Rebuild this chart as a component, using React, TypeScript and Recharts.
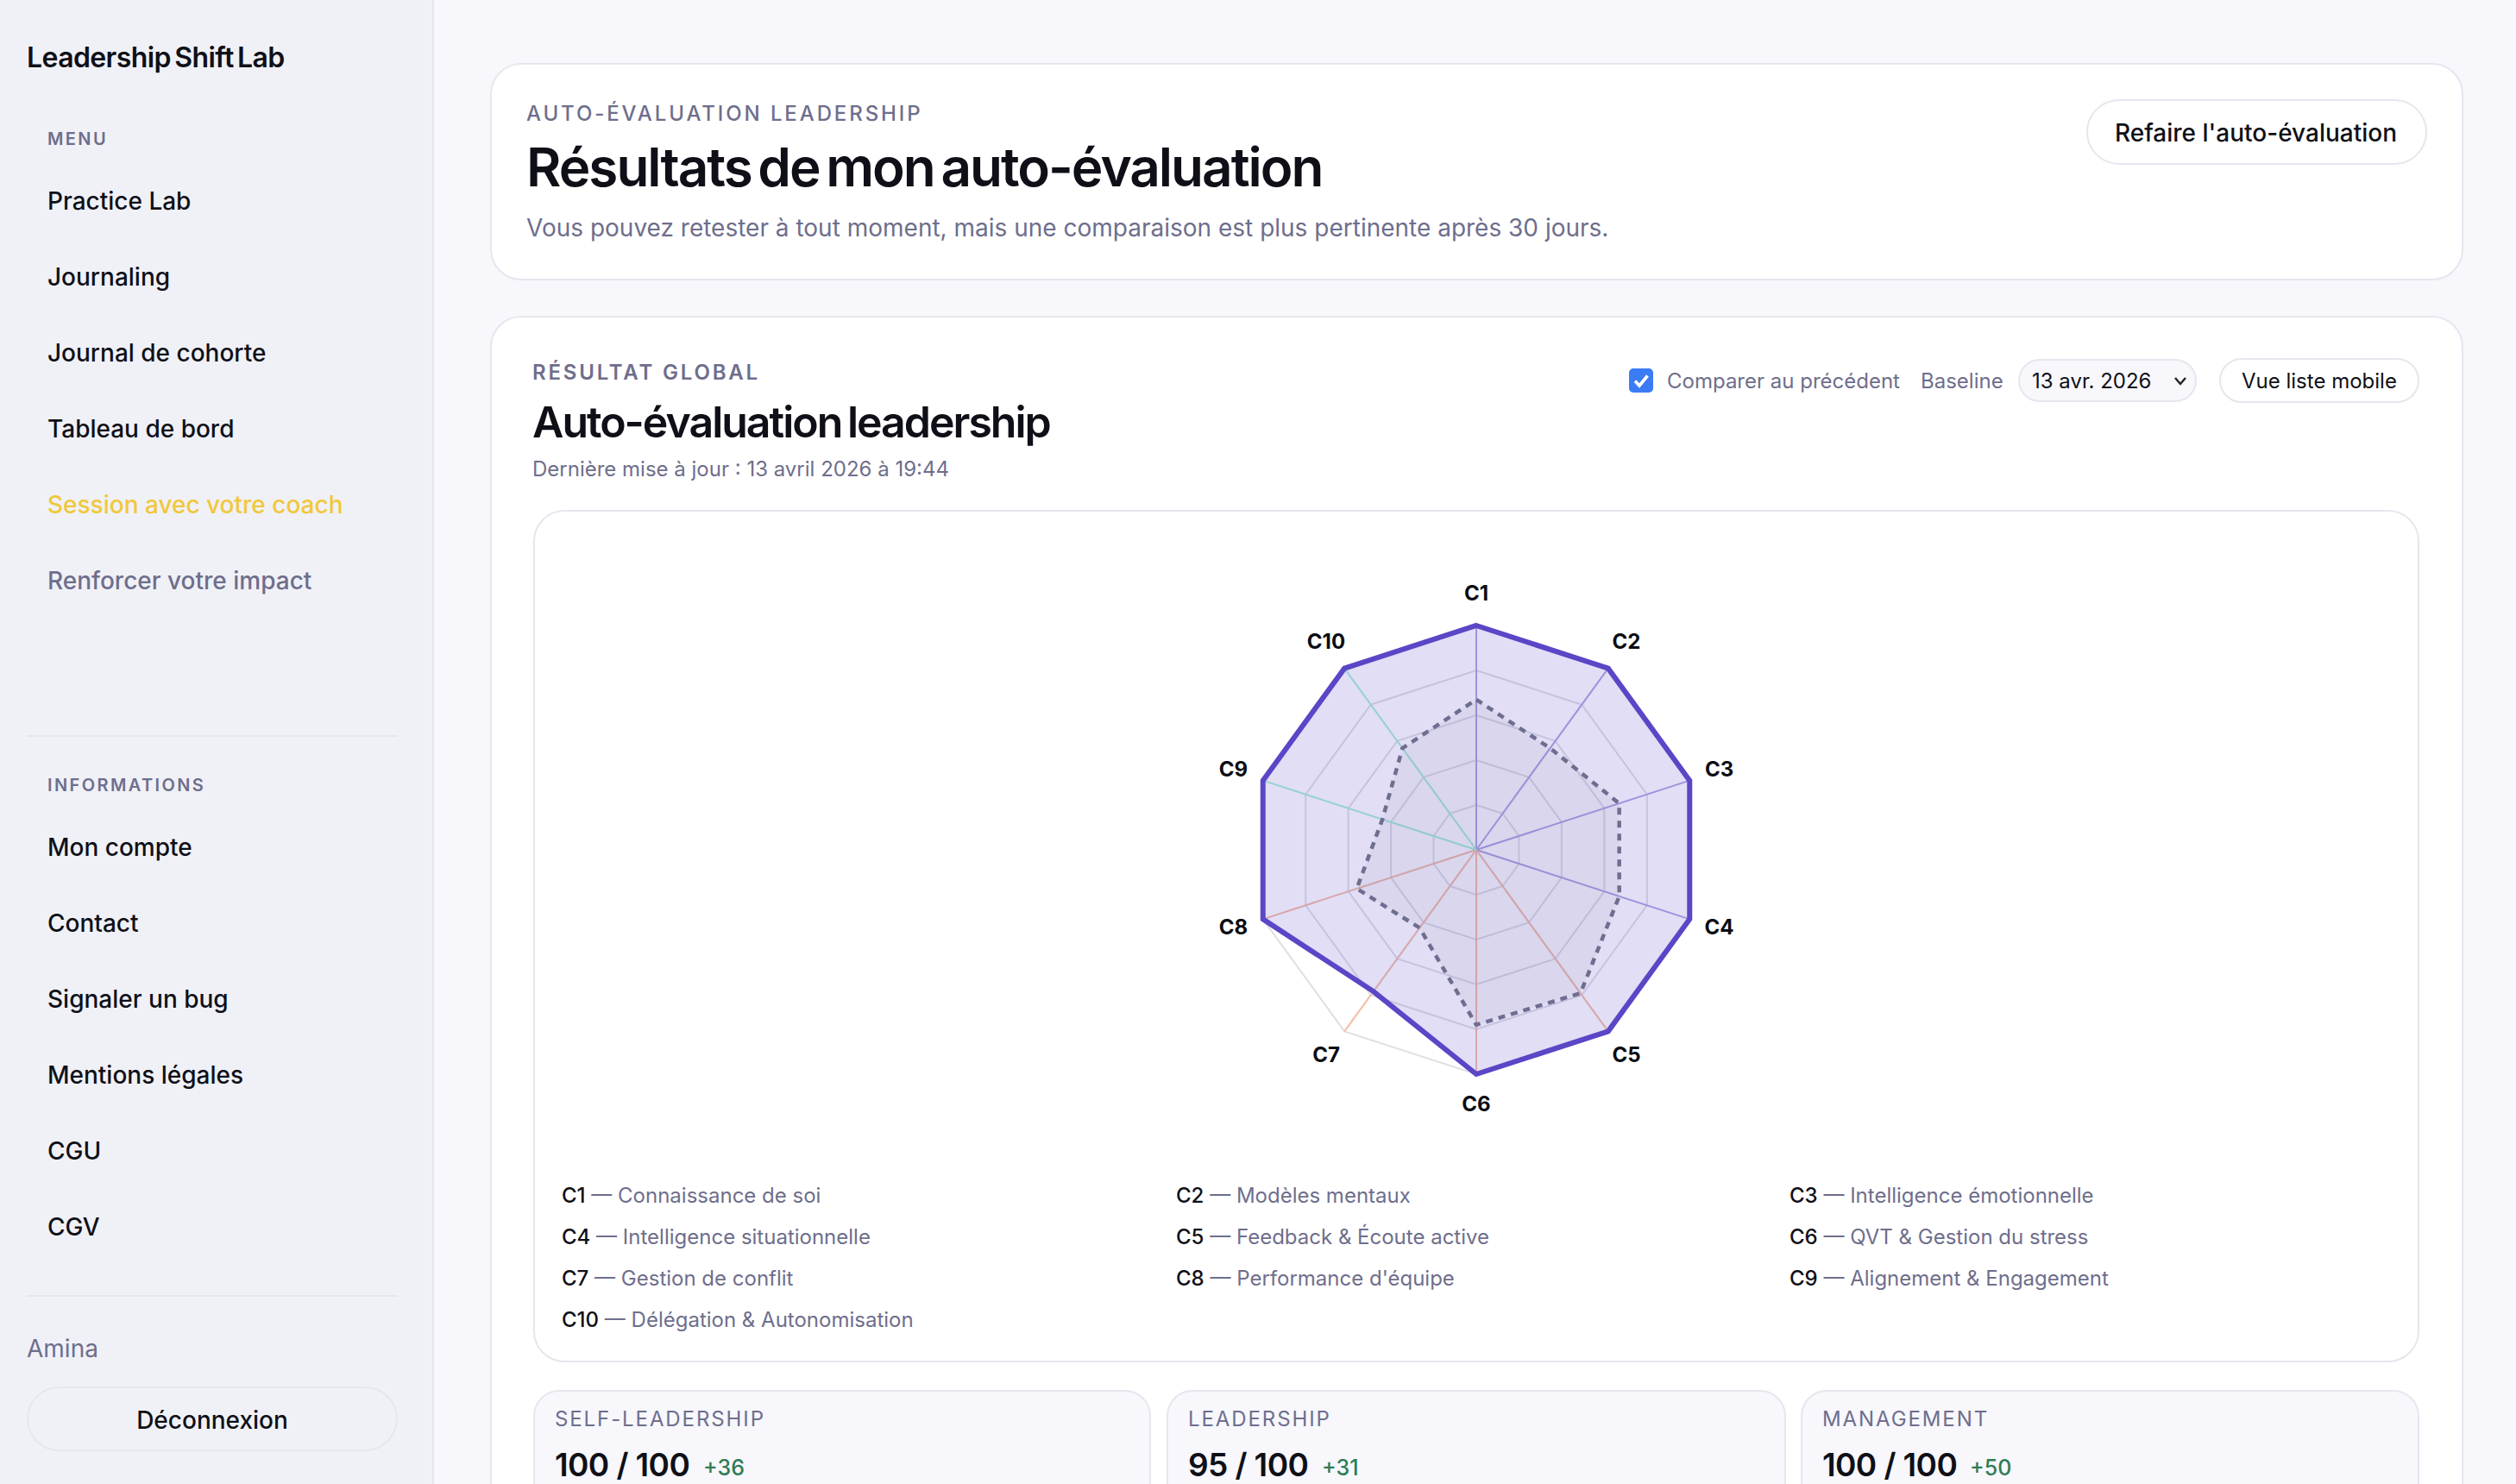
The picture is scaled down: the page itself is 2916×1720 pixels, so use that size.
import React from 'react';
import { RadarChart, Radar, PolarGrid, PolarAngleAxis, PolarRadiusAxis } from 'recharts';

const categories = ['C1', 'C2', 'C3', 'C4', 'C5', 'C6', 'C7', 'C8', 'C9', 'C10'];
const currentValues = [100, 100, 100, 100, 100, 100, 78, 100, 100, 100];
const baselineValues = [67, 56, 67, 67, 79, 78, 43, 56, 44, 56];
const axisMaxValues = [100, 100, 100, 100, 100, 100, 100, 100, 100, 100];
const competencyNames = [
  'Connaissance de soi', 'Modèles mentaux', 'Intelligence émotionnelle', 'Intelligence situationnelle',
  'Feedback & Écoute active', 'QVT & Gestion du stress', 'Gestion de conflit', "Performance d'équipe",
  'Alignement & Engagement', 'Délégation & Autonomisation',
];
const spokeColors = ['#aca4e3', '#aca4e3', '#aca4e3', '#aca4e3', '#f4bca5', '#f4bca5', '#f4bca5', '#f4bca5', '#a3f0d6', '#a3f0d6'];
const menuItems = ['Practice Lab', 'Journaling', 'Journal de cohorte', 'Tableau de bord', 'Session avec votre coach', 'Renforcer votre impact'];
const infoItems = ['Mon compte', 'Contact', 'Signaler un bug', 'Mentions légales', 'CGU', 'CGV'];
const statLabels = ['SELF-LEADERSHIP', 'LEADERSHIP', 'MANAGEMENT'];
const statScores = ['100 / 100', '95 / 100', '100 / 100'];
const statDeltas = ['+36', '+31', '+50'];

const chartData = categories.map((c, i) => ({ axis: c, current: currentValues[i], baseline: baselineValues[i], axisMax: axisMaxValues[i] }));

const FONT = 'Inter, sans-serif';
const INK = '#0f1017';
const MUTED = '#6e6e8c';
const BORDER = '#e6e6ee';
const CX = 400, CY = 400, R = 260;

function T({ x, y, size, color = INK, weight = 400, ls = 0, ws = 0, children }: any) {
  return (
    <div style={{ position: 'absolute', left: x, top: y, transform: 'translateY(-50%)', fontFamily: FONT, fontSize: size, color, fontWeight: weight, letterSpacing: ls, wordSpacing: ws, lineHeight: 1.2, whiteSpace: 'nowrap' }}>
      {children}
    </div>
  );
}

function Box({ x, y, w, h, r, bg = '#fff', border = BORDER, children }: any) {
  return (
    <div style={{ position: 'absolute', left: x, top: y, width: w, height: h, borderRadius: r, background: bg, border: `2px solid ${border}`, boxSizing: 'border-box' }}>
      {children}
    </div>
  );
}

function LabelTick(props: any) {
  const { payload } = props;
  const a = (payload.coordinate * Math.PI) / 180;
  const lx = CX + (R + 36) * Math.cos(a);
  const ly = CY - (R + 36) * Math.sin(a) - 2;
  return (
    <text x={lx} y={ly} textAnchor="middle" dominantBaseline="central" fontFamily={FONT} fontSize={24} fontWeight={700} fill="#0b0c12">{payload.value}</text>
  );
}

function Spokes(props: any) {
  return (
    <g>
      {props.points.map((p: any, i: number) => (
        <line key={i} x1={CX} y1={CY} x2={p.x} y2={p.y} stroke={spokeColors[i]} strokeWidth={2} />
      ))}
    </g>
  );
}

export default function App() {
  return (
    <div style={{ position: 'fixed', left: 0, top: 0, width: 2916, height: 1720, overflow: 'hidden', background: '#f7f7fc' }}>
      {/* Sidebar */}
      <div style={{ position: 'absolute', left: 0, top: 0, width: 503, height: 1720, background: '#f0f1f7', borderRight: `2px solid ${BORDER}`, boxSizing: 'border-box' }} />
      <T x={31} y={67} size={32} weight={600} ls={-0.6} ws={-3}>Leadership Shift Lab</T>
      <T x={55} y={161} size={20} weight={600} color={MUTED} ls={2.4}>MENU</T>
      {menuItems.map((m, i) => (
        <T key={m} x={55} y={234 + i * 88} size={28} weight={500} color={i === 4 ? '#f0c83c' : i === 5 ? MUTED : INK}>{m}</T>
      ))}
      <div style={{ position: 'absolute', left: 31, top: 852, width: 430, height: 2, background: BORDER }} />
      <T x={55} y={910} size={20} weight={600} color={MUTED} ls={2.4}>INFORMATIONS</T>
      {infoItems.map((m, i) => (
        <T key={m} x={55} y={983 + i * 88} size={28} weight={500}>{m}</T>
      ))}
      <div style={{ position: 'absolute', left: 31, top: 1501, width: 430, height: 2, background: BORDER }} />
      <T x={31} y={1564} size={28} color={MUTED}>Amina</T>
      <Box x={31} y={1607} w={430} h={75} r={38} bg="#f0f1f7" />
      <div style={{ position: 'absolute', left: 31, width: 430, top: 1647, transform: 'translateY(-50%)', textAlign: 'center', fontFamily: FONT, fontSize: 28, fontWeight: 500, color: INK, lineHeight: 1.2 }}>Déconnexion</div>

      {/* Header card */}
      <Box x={568} y={73} w={2287} h={252} r={36} />
      <T x={610} y={132} size={24} weight={500} color={MUTED} ls={2.9}>AUTO-ÉVALUATION LEADERSHIP</T>
      <T x={610} y={194} size={62} weight={600} ls={-2} ws={-6}>Résultats de mon auto-évaluation</T>
      <T x={610} y={265} size={28} color={MUTED}>Vous pouvez retester à tout moment, mais une comparaison est plus pertinente après 30 jours.</T>
      <Box x={2418} y={115} w={395} h={76} r={38} />
      <T x={2451} y={155} size={28} weight={500}>Refaire l'auto-évaluation</T>

      {/* Main card */}
      <Box x={568} y={366} w={2287} h={1500} r={36} />
      <T x={617} y={432} size={24} weight={600} color={MUTED} ls={2.8}>RÉSULTAT GLOBAL</T>
      <T x={617} y={489} size={50} weight={600} ls={-2} ws={-4}>Auto-évaluation leadership</T>
      <T x={617} y={544} size={24} color={MUTED}>Dernière mise à jour : 13 avril 2026 à 19:44</T>
      <div style={{ position: 'absolute', left: 1888, top: 427, width: 28, height: 28, borderRadius: 5, background: '#3b7cf5' }}>
        <svg width="28" height="28" viewBox="0 0 28 28"><path d="M7 14.5 L12 20 L21.5 8.5" fill="none" stroke="#fff" strokeWidth="3.6" /></svg>
      </div>
      <T x={1932} y={442} size={24} color={MUTED}>Comparer au précédent</T>
      <T x={2226} y={442} size={24} color={MUTED}>Baseline</T>
      <Box x={2339} y={416} w={207} h={50} r={25} bg="#f7f7fc" />
      <T x={2355} y={442} size={24} weight={400}>13 avr. 2026</T>
      <svg style={{ position: 'absolute', left: 2519, top: 435 }} width="16" height="13" viewBox="0 0 16 13"><path d="M2 3 L8 10 L14 3" fill="none" stroke="#222" strokeWidth="2.4" /></svg>
      <Box x={2572} y={415} w={232} h={52} r={26} />
      <T x={2598} y={442} size={24} weight={400}>Vue liste mobile</T>

      {/* Chart card */}
      <Box x={618} y={591} w={2186} h={988} r={36} />
      <div style={{ position: 'absolute', left: 1311, top: 585 }}>
        <RadarChart width={800} height={800} data={chartData} cx={CX} cy={CY} outerRadius={R} startAngle={90} endAngle={-270} margin={{ top: 0, right: 0, bottom: 0, left: 0 }}>
          <PolarGrid gridType="polygon" radialLines={false} stroke="#c9c9d4" strokeOpacity={0.6} strokeWidth={2} />
          <PolarRadiusAxis domain={[0, 100]} tickCount={6} tick={false} axisLine={false} />
          <PolarAngleAxis dataKey="axis" tickLine={false} axisLine={false} tick={(p: any) => <LabelTick {...p} />} />
          <Radar dataKey="axisMax" shape={(p: any) => <Spokes {...p} />} stroke="none" fill="none" isAnimationActive={false} dot={false} />
          <Radar dataKey="current" stroke="#5a46c6" strokeWidth={6} fill="#5a46c6" fillOpacity={0.18} isAnimationActive={false} dot={false} />
          <Radar dataKey="baseline" stroke="#6e6e90" strokeWidth={4.5} strokeDasharray="8 7" fill="#6e6e90" fillOpacity={0.07} isAnimationActive={false} dot={false} />
        </RadarChart>
      </div>

      {/* Legend */}
      {categories.map((c, i) => (
        <T key={c} x={[651, 1363, 2074][i % 3]} y={1386 + Math.floor(i / 3) * 48} size={24} color={MUTED}>
          <span style={{ color: INK, fontWeight: 500 }}>{c}</span> — {competencyNames[i]}
        </T>
      ))}

      {/* Stats */}
      {statLabels.map((l, i) => {
        const left = [618, 1352, 2087][i];
        const w = [716, 718, 717][i];
        const tx = [643, 1377, 2112][i];
        const dx = [815, 1532, 2283][i];
        return (
          <React.Fragment key={l}>
            <Box x={left} y={1611} w={w} h={240} r={30} bg="#f7f7fc" />
            <T x={tx} y={1645} size={24} color={MUTED} ls={1.9}>{l}</T>
            <T x={tx} y={1698} size={37} weight={600} ls={-0.6}>{statScores[i]}</T>
            <T x={dx} y={1701} size={25} weight={500} color="#2e7d55">{statDeltas[i]}</T>
          </React.Fragment>
        );
      })}
    </div>
  );
}
